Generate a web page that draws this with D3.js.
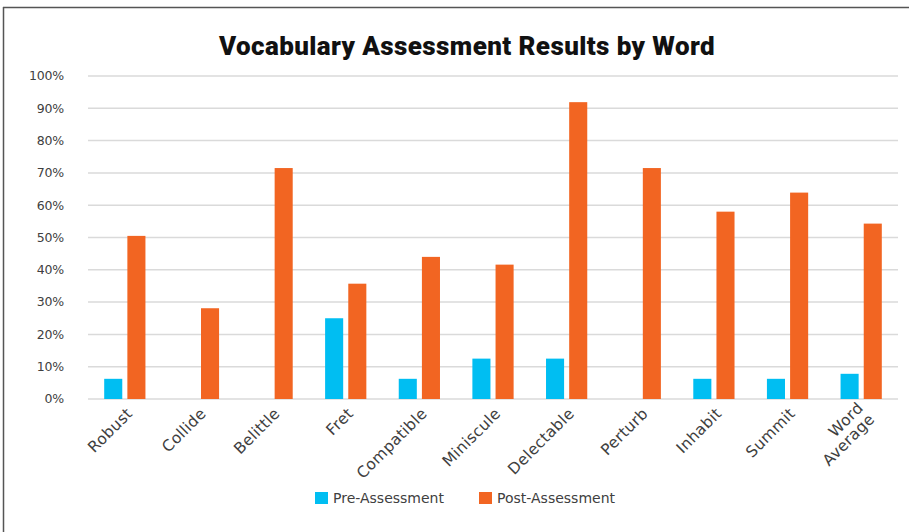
<!DOCTYPE html>
<html>
<head>
<meta charset="utf-8">
<script src="https://cdn.jsdelivr.net/npm/d3@7/dist/d3.min.js"></script>
<style>
  body { margin: 0; background: #fff; }
  svg { display: block; }
</style>
</head>
<body>
<svg id="chart"></svg>
<script>
// Chart data
const words = ['Robust', 'Collide', 'Belittle', 'Fret', 'Compatible', 'Miniscule',
               'Delectable', 'Perturb', 'Inhabit', 'Summit', 'Word Average'];
const preAssessment  = [6.25, 0, 0, 25, 6.25, 12.5, 12.5, 0, 6.25, 6.25, 7.8];
const postAssessment = [50.5, 28.1, 71.5, 35.7, 44, 41.6, 91.9, 71.5, 58, 63.9, 54.3];
const seriesNames = ['Pre-Assessment', 'Post-Assessment'];
const seriesColors = ['#00bef2', '#f26522'];
const yTicks = [0, 10, 20, 30, 40, 50, 60, 70, 80, 90, 100];

const width = 909;
const height = 532;
const margin = { left: 88, right: 11, top: 76, bottom: 133 };

const svg = d3.select('#chart')
    .attr('width', width)
    .attr('height', height);

// Frame lines (top and left edge of the original box)
svg.append('line')
    .attr('x1', 3).attr('x2', width)
    .attr('y1', 7.5).attr('y2', 7.5)
    .attr('stroke', '#555').attr('stroke-width', 1.5);
svg.append('line')
    .attr('x1', 3.5).attr('x2', 3.5)
    .attr('y1', 7).attr('y2', height)
    .attr('stroke', '#555').attr('stroke-width', 1.5);

// Title
svg.append('text')
    .attr('x', 467)
    .attr('y', 55)
    .attr('text-anchor', 'middle')
    .attr('font-family', 'Roboto, sans-serif')
    .attr('font-weight', 900)
    .attr('font-size', 26)
    .attr('letter-spacing', 0.4)
    .attr('fill', '#111')
    .text('Vocabulary Assessment Results by Word');

// Scales
const x0 = d3.scaleBand()
    .domain(words)
    .range([margin.left, width - margin.right])
    .paddingInner(0.44)
    .paddingOuter(0.22);

const x1 = d3.scaleBand()
    .domain(seriesNames)
    .range([0, x0.bandwidth()])
    .paddingInner(0.22);

const y = d3.scaleLinear()
    .domain([0, 100])
    .range([399, 76]);

// Gridlines
svg.append('g')
    .selectAll('line')
    .data(yTicks)
    .enter()
    .append('line')
    .attr('x1', margin.left)
    .attr('x2', width - margin.right)
    .attr('y1', d => y(d))
    .attr('y2', d => y(d))
    .attr('stroke', '#dadada')
    .attr('stroke-width', 1.5);

// Y tick labels
svg.append('g')
    .selectAll('text')
    .data(yTicks)
    .enter()
    .append('text')
    .attr('x', 64)
    .attr('y', d => y(d))
    .attr('dy', '0.35em')
    .attr('text-anchor', 'end')
    .attr('font-family', 'DejaVu Sans, sans-serif')
    .attr('font-size', 12.5)
    .attr('letter-spacing', -0.2)
    .attr('fill', '#404040')
    .text(d => d + '%');

// Bars
const rows = words.map((w, i) => ({
    word: w,
    values: [preAssessment[i], postAssessment[i]]
}));

const groups = svg.append('g')
    .selectAll('g')
    .data(rows)
    .enter()
    .append('g')
    .attr('transform', d => `translate(${x0(d.word)},0)`);

groups.selectAll('rect')
    .data(d => d.values.map((v, j) => ({ series: seriesNames[j], value: v, color: seriesColors[j] })))
    .enter()
    .append('rect')
    .filter(d => d.value > 0)
    .attr('x', d => x1(d.series))
    .attr('y', d => y(d.value))
    .attr('width', x1.bandwidth())
    .attr('height', d => y(0) - y(d.value))
    .attr('fill', d => d.color);

// X labels, rotated
const xLabels = svg.append('g')
    .selectAll('text')
    .data(words)
    .enter()
    .append('text')
    .attr('transform', d => `translate(${x0(d) + x0.bandwidth() / 2 + 5},411) rotate(-45)`)
    .attr('text-anchor', 'end')
    .attr('font-family', 'DejaVu Sans, sans-serif')
    .attr('font-size', 15.5)
    .attr('letter-spacing', 0.3)
    .attr('fill', '#404040');

xLabels.each(function(d) {
    const parts = d === 'Word Average' ? ['Word', 'Average'] : [d];
    const t = d3.select(this);
    parts.forEach((p, k) => {
        t.append('tspan')
            .attr('x', 0)
            .attr('y', 0)
            .attr('dy', (k - (parts.length - 1) / 2) * 16 + 5)
            .text(p);
    });
});

// Legend
const legendItems = [
    { name: seriesNames[0], color: seriesColors[0], x: 315 },
    { name: seriesNames[1], color: seriesColors[1], x: 479 }
];
const legend = svg.append('g')
    .selectAll('g')
    .data(legendItems)
    .enter()
    .append('g')
    .attr('transform', d => `translate(${d.x},492)`);

legend.append('rect')
    .attr('width', 13)
    .attr('height', 12)
    .attr('fill', d => d.color);

legend.append('text')
    .attr('x', 18)
    .attr('y', 6)
    .attr('dy', '0.35em')
    .attr('font-family', 'DejaVu Sans, sans-serif')
    .attr('font-size', 14)
    .attr('fill', '#404040')
    .text(d => d.name);
</script>
</body>
</html>
